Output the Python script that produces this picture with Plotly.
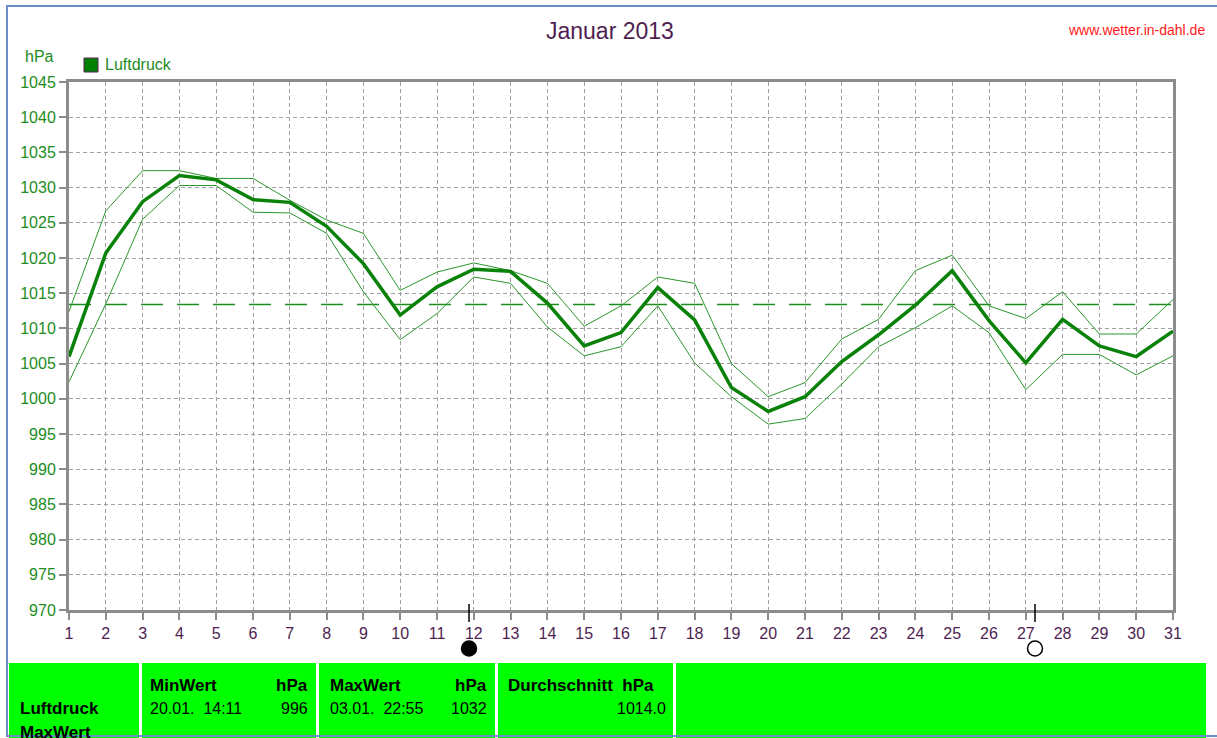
import plotly.graph_objects as go

# ---------------- data ----------------
days = list(range(1, 32))
mean_p = [1006.0, 1020.7, 1028.0, 1031.7, 1031.1, 1028.3, 1027.9, 1024.5, 1019.2, 1011.9,
          1015.9, 1018.4, 1018.1, 1013.6, 1007.5, 1009.4, 1015.8, 1011.2, 1001.6, 998.2,
          1000.3, 1005.3, 1009.1, 1013.3, 1018.2, 1011.1, 1005.1, 1011.3, 1007.5, 1006.0, 1009.6]
max_p = [1012.4, 1026.7, 1032.4, 1032.4, 1031.3, 1031.3, 1028.2, 1025.4, 1023.5, 1015.4,
         1018.0, 1019.3, 1018.2, 1016.4, 1010.3, 1013.2, 1017.3, 1016.4, 1005.0, 1000.3,
         1002.3, 1008.5, 1011.3, 1018.2, 1020.4, 1013.2, 1011.4, 1015.2, 1009.2, 1009.2, 1014.1]
min_p = [1002.4, 1013.5, 1025.5, 1030.3, 1030.3, 1026.5, 1026.4, 1023.5, 1015.2, 1008.4,
         1012.1, 1017.3, 1016.4, 1010.2, 1006.1, 1007.4, 1013.2, 1005.1, 1000.3, 996.4,
         997.2, 1002.1, 1007.4, 1010.1, 1013.2, 1009.4, 1001.3, 1006.3, 1006.3, 1003.4, 1006.1]
avg_line = 1013.4
y_ticks = list(range(970, 1046, 5))
moon_days = [11.87, 27.25]
moon_types = ["new", "full"]

title_text = "Januar 2013"
site_text = "www.wetter.in-dahl.de"
unit_text = "hPa"
series_name = "Luftdruck"
table_row_labels = ["Luftdruck", "MaxWert"]
min_header, min_time, min_value = "MinWert", "20.01.\u00a0\u00a014:11", "996"
max_header, max_time, max_value = "MaxWert", "03.01.\u00a0\u00a022:55", "1032"
avg_header, avg_value = "Durchschnitt\u00a0\u00a0hPa", "1014.0"

# ---------------- layout helpers ----------------
W, H = 1217, 738
L, R, T, B = 69, 1173, 82, 610


def px(x):
    return (x - L) / (R - L)


def py(y):
    return (B - y) / (B - T)


GREEN_TXT = "#1E8C1E"
PURPLE = "#4E1E52"
FONT = "Liberation Sans, Arial, sans-serif"

fig = go.Figure()

fig.add_trace(go.Scatter(x=[days[0], days[-1]], y=[avg_line, avg_line], mode="lines",
                         line=dict(color="#1E8C1E", width=1.6, dash="22px,14px"),
                         hoverinfo="skip", showlegend=False))
fig.add_trace(go.Scatter(x=days, y=max_p, mode="lines",
                         line=dict(color="#2A962A", width=1), hoverinfo="skip", showlegend=False))
fig.add_trace(go.Scatter(x=days, y=min_p, mode="lines",
                         line=dict(color="#2A962A", width=1), hoverinfo="skip", showlegend=False))
fig.add_trace(go.Scatter(x=days, y=mean_p, mode="lines",
                         line=dict(color="#0A820A", width=3.5), name=series_name, showlegend=False))

shapes = []
annotations = []

# moon phase markers
for d, t in zip(moon_days, moon_types):
    shapes.append(dict(type="line", xref="x", yref="paper", x0=d, x1=d,
                       y0=py(604), y1=py(622), line=dict(color="#000000", width=1.5)))
    rx = 7.5 / 36.8
    shapes.append(dict(type="circle", xref="x", yref="paper",
                       x0=d - rx, x1=d + rx, y0=py(641), y1=py(656),
                       fillcolor="#000000" if t == "new" else "rgba(0,0,0,0)",
                       line=dict(color="#000000", width=1.5)))

# legend square
shapes.append(dict(type="rect", xref="paper", yref="paper", x0=px(84), x1=px(98),
                   y0=py(58), y1=py(72), fillcolor="#008000", line=dict(color="#5A2060", width=1)))

# table panels
panels = [(9, 139), (142, 316), (319, 495), (498, 673), (676, 1206)]
for x0, x1 in panels:
    shapes.append(dict(type="rect", xref="paper", yref="paper", x0=px(x0), x1=px(x1),
                       y0=py(663), y1=py(738), fillcolor="#00FF00", line=dict(width=0)))

# blue outer frame
shapes.append(dict(type="rect", xref="paper", yref="paper", x0=px(7), x1=px(1230),
                   y0=py(6), y1=py(736), fillcolor="rgba(0,0,0,0)",
                   line=dict(color="#6A8EC8", width=2)))


def ann(text, x, y, size, color, xanchor="left", bold=False):
    annotations.append(dict(text=f"<b>{text}</b>" if bold else text, x=px(x), y=py(y),
                            xref="paper", yref="paper", xanchor=xanchor, yanchor="middle",
                            showarrow=False, font=dict(family=FONT, size=size, color=color)))


ann(title_text, 610, 31, 23, PURPLE, "center")
ann(site_text, 1207, 30, 14, "#FF1A1A", "right")
ann(unit_text, 23, 57, 16, GREEN_TXT)
ann(series_name, 103, 65, 16, GREEN_TXT)

ann(table_row_labels[0], 18, 708, 17, "#000000", bold=True)
ann(table_row_labels[1], 18, 732, 17, "#000000", bold=True)
ann(min_header, 148, 685, 17, "#000000", bold=True)
ann(unit_text, 310, 685, 17, "#000000", "right", bold=True)
ann(min_time, 148, 708, 16, "#000000")
ann(min_value, 310, 708, 16, "#000000", "right")
ann(max_header, 328, 685, 17, "#000000", bold=True)
ann(unit_text, 489, 685, 17, "#000000", "right", bold=True)
ann(max_time, 328, 708, 16, "#000000")
ann(max_value, 489, 708, 16, "#000000", "right")
ann(avg_header, 506, 685, 17, "#000000", bold=True)
ann(avg_value, 668, 708, 16, "#000000", "right")

axis_common = dict(showline=True, mirror=True, linecolor="#8C8C8C", linewidth=3,
                   showgrid=True, gridcolor="#A0A0A0", gridwidth=1, griddash="4px,3px",
                   zeroline=False, ticks="outside", ticklen=7, tickcolor="#8C8C8C",
                   tickwidth=1.5, automargin=False, fixedrange=True)

fig.update_layout(
    width=W, height=H, autosize=False,
    margin=dict(l=L, r=W - R, t=T, b=H - B, pad=0),
    paper_bgcolor="white", plot_bgcolor="white",
    font=dict(family=FONT),
    xaxis=dict(range=[1, 31], tickmode="array", tickvals=days, ticktext=[str(d) for d in days],
               tickfont=dict(family=FONT, size=16, color=PURPLE), **axis_common),
    yaxis=dict(range=[970, 1045], tickmode="array", tickvals=y_ticks,
               ticktext=[str(v) for v in y_ticks],
               tickfont=dict(family=FONT, size=16, color=GREEN_TXT), **axis_common),
    shapes=shapes, annotations=annotations, hovermode=False, showlegend=False,
)

fig.write_html("out.html", config={"displayModeBar": False},
               post_script="document.body.style.margin='0px';document.body.style.overflow='hidden';")
